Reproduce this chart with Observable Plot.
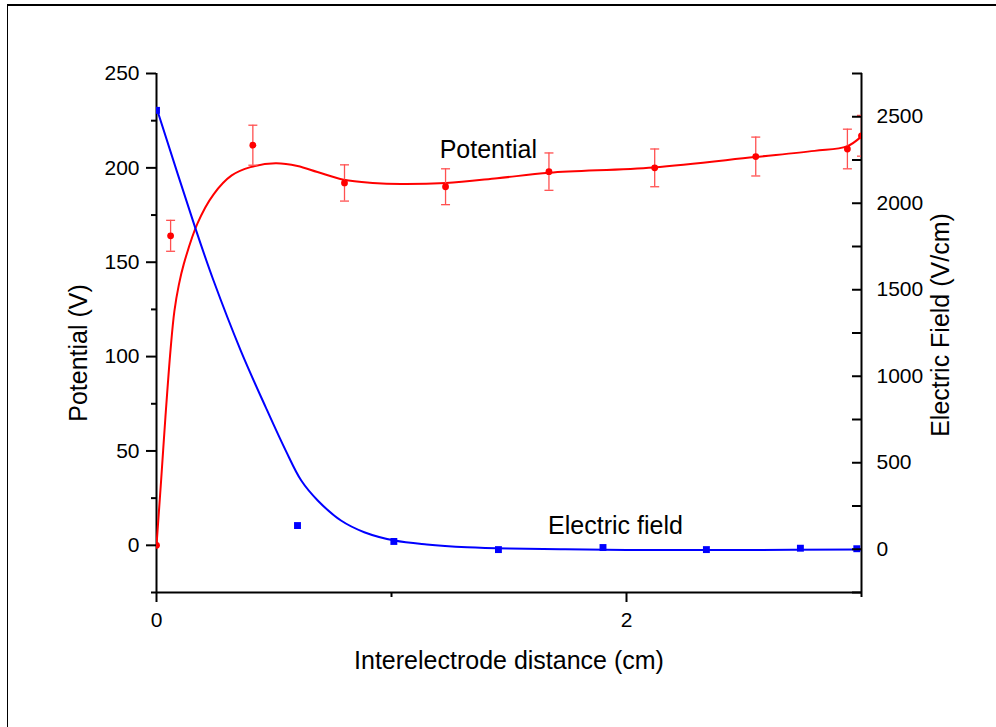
<!DOCTYPE html>
<html><head><meta charset="utf-8">
<script src="https://cdn.jsdelivr.net/npm/d3@7"></script>
<script src="https://cdn.jsdelivr.net/npm/@observablehq/plot@0.6"></script>
<style>
html,body{margin:0;padding:0;background:#fff;}
#wrap{position:relative;width:996px;height:727px;overflow:hidden;background:#fff;}
#frame{position:absolute;left:6.5px;top:3.5px;width:1100px;height:900px;border-top:2px solid #000;border-left:1.5px solid #000;pointer-events:none;}
</style></head><body>
<div id="wrap"><div id="chart"></div><div id="frame"></div></div>
<script>
// ---- data ----
// measured potential (left axis, V) with error bars
const potX   = [0, 0.06, 0.41, 0.80, 1.23, 1.67, 2.12, 2.55, 2.94, 3.00];
const potY   = [0, 164, 212, 192, 190, 198, 200, 206, 210, 217];
const potErr = [0, 8.2, 10.6, 9.6, 9.5, 9.9, 10.0, 10.3, 10.5, 10.8];
// measured electric field (right axis, V/cm)
const fieldX = [0, 0.60, 1.01, 1.455, 1.90, 2.34, 2.74, 2.98];
const fieldY = [2537, 137, 45, -2, 10, -2, 6, 3];
// fitted potential curve
const fitPX = [0, 0.02, 0.038, 0.06, 0.076, 0.095, 0.116, 0.174, 0.243, 0.32, 0.40, 0.507, 0.60, 0.685, 0.797, 0.92, 1.04, 1.232, 1.45, 1.672, 2.115, 2.546, 2.80, 2.938, 3.0];
const fitPY = [0, 35, 68, 104, 124, 138, 149, 170.5, 186, 196, 200.4, 202.4, 201, 197.8, 193.7, 192, 191.4, 192, 194.5, 197.4, 200.2, 205.7, 209, 211.4, 216.7];
// fitted electric field curve
const fitEX = [0, 0.166, 0.243, 0.358, 0.465, 0.55, 0.616, 0.686, 0.785, 0.884, 1.013, 1.15, 1.322, 1.5, 1.719, 2.0, 2.5, 3.0];
const fitEY = [2552, 1853, 1552, 1150, 820, 570, 397, 282, 166, 98.5, 50.5, 28, 12, 4, 0, -4, -4, -2];
// axes ticks
const xMajor = [0, 2];
const xMinor = [1, 3];
const leftMajor = [0, 50, 100, 150, 200, 250];
const leftMinor = [-25, 25, 75, 125, 175, 225];
const rightMajor = [0, 500, 1000, 1500, 2000, 2500];
const rightMinor = [-250, 250, 750, 1250, 1750, 2250, 2750];
// annotations
const annoText = ["Potential", "Electric field"];
const annoX = [1.412, 1.953];
const annoY = [209.4, 10.3];

// ---- map right axis (field) onto left axis (potential) ----
const leftDomain = [-25, 250];
const rightDomain = [-250, 2750];
const eToP = e => leftDomain[0] + (e - rightDomain[0]) * (leftDomain[1] - leftDomain[0]) / (rightDomain[1] - rightDomain[0]);
const pToE = p => rightDomain[0] + (p - leftDomain[0]) * (rightDomain[1] - rightDomain[0]) / (leftDomain[1] - leftDomain[0]);

const potential = potX.map((x, i) => ({x, y: potY[i], e: potErr[i]}));
const withErr = potential.filter(d => d.e > 0);
const field = fieldX.map((x, i) => ({x, y: eToP(fieldY[i])}));
const fitP = fitPX.map((x, i) => ({x, y: fitPY[i]}));
const fitE = fitEX.map((x, i) => ({x, y: eToP(fitEY[i])}));
const annos = annoText.map((t, i) => ({t, x: annoX[i], y: annoY[i]}));

const cap = {draw(ctx, size) { const h = Math.sqrt(size / Math.PI); ctx.moveTo(-h, 0); ctx.lineTo(h, 0); }};
const red = "#ff0000", blue = "#0000ff", errColor = "#ff5050";
const F = 21, T = 25;

const chart = Plot.plot({
  width: 996, height: 727,
  marginLeft: 156, marginRight: 135, marginTop: 73, marginBottom: 135,
  style: {fontFamily: "Arial, 'Liberation Sans', sans-serif", color: "#000", background: "#fff", overflow: "visible"},
  x: {domain: [0, 3], axis: null, label: null},
  y: {domain: leftDomain, axis: null, label: null},
  marks: [
    // axis lines
    Plot.ruleX([0, 3], {stroke: "#000", strokeWidth: 2}),
    Plot.ruleY([-25], {stroke: "#000", strokeWidth: 2}),
    // curves
    Plot.line(fitP, {x: "x", y: "y", stroke: red, strokeWidth: 2, curve: "catmull-rom", clip: true}),
    Plot.line(fitE, {x: "x", y: "y", stroke: blue, strokeWidth: 2, curve: "catmull-rom", clip: true}),
    // error bars
    Plot.ruleX(withErr, {x: "x", y1: d => d.y - d.e, y2: d => d.y + d.e, stroke: errColor, strokeWidth: 1.3, clip: true}),
    Plot.dot(withErr, {x: "x", y: d => d.y + d.e, symbol: cap, r: 4.5, stroke: errColor, strokeWidth: 1.3, fill: "none", clip: true}),
    Plot.dot(withErr, {x: "x", y: d => d.y - d.e, symbol: cap, r: 4.5, stroke: errColor, strokeWidth: 1.3, fill: "none", clip: true}),
    // points
    Plot.dot(potential, {x: "x", y: "y", r: 3.4, fill: red, stroke: "none", clip: true}),
    Plot.dot(field, {x: "x", y: "y", symbol: "square", r: 3.9, fill: blue, stroke: "none", clip: true}),
    // axes
    Plot.axisY(leftMajor, {anchor: "left", tickSize: 10, tickPadding: 7, fontSize: F, strokeWidth: 2}),
    Plot.axisY(leftMinor, {anchor: "left", tickSize: 5, tickFormat: () => "", strokeWidth: 2}),
    Plot.axisY(rightMajor.map(eToP), {anchor: "right", tickSize: 10, dx: -10, tickPadding: 15, fontSize: F, strokeWidth: 2,
      tickFormat: p => String(Math.round(pToE(p)))}),
    Plot.axisY(rightMinor.map(eToP), {anchor: "right", tickSize: 10, dx: -10, tickFormat: () => "", strokeWidth: 2}),
    Plot.axisX(xMajor, {anchor: "bottom", tickSize: 10, tickPadding: 10, fontSize: F, strokeWidth: 2, tickFormat: d => String(d)}),
    Plot.axisX(xMinor, {anchor: "bottom", tickSize: 5, tickFormat: () => "", strokeWidth: 2}),
    // axis titles
    Plot.text(["Interelectrode distance (cm)"], {frameAnchor: "bottom", textAnchor: "middle", lineAnchor: "middle", dy: 68, fontSize: T, fill: "#000"}),
    Plot.text(["Potential (V)"], {frameAnchor: "left", textAnchor: "middle", lineAnchor: "middle", dx: -78, dy: 20, rotate: -90, fontSize: T, fill: "#000"}),
    Plot.text(["Electric Field (V/cm)"], {frameAnchor: "right", textAnchor: "middle", lineAnchor: "middle", dx: 79, dy: -8, rotate: -90, fontSize: T, fill: "#000"}),
    // annotations
    Plot.text(annos, {x: "x", y: "y", text: "t", fontSize: T, fill: "#000"})
  ]
});
document.getElementById("chart").appendChild(chart);
</script>
</body></html>
